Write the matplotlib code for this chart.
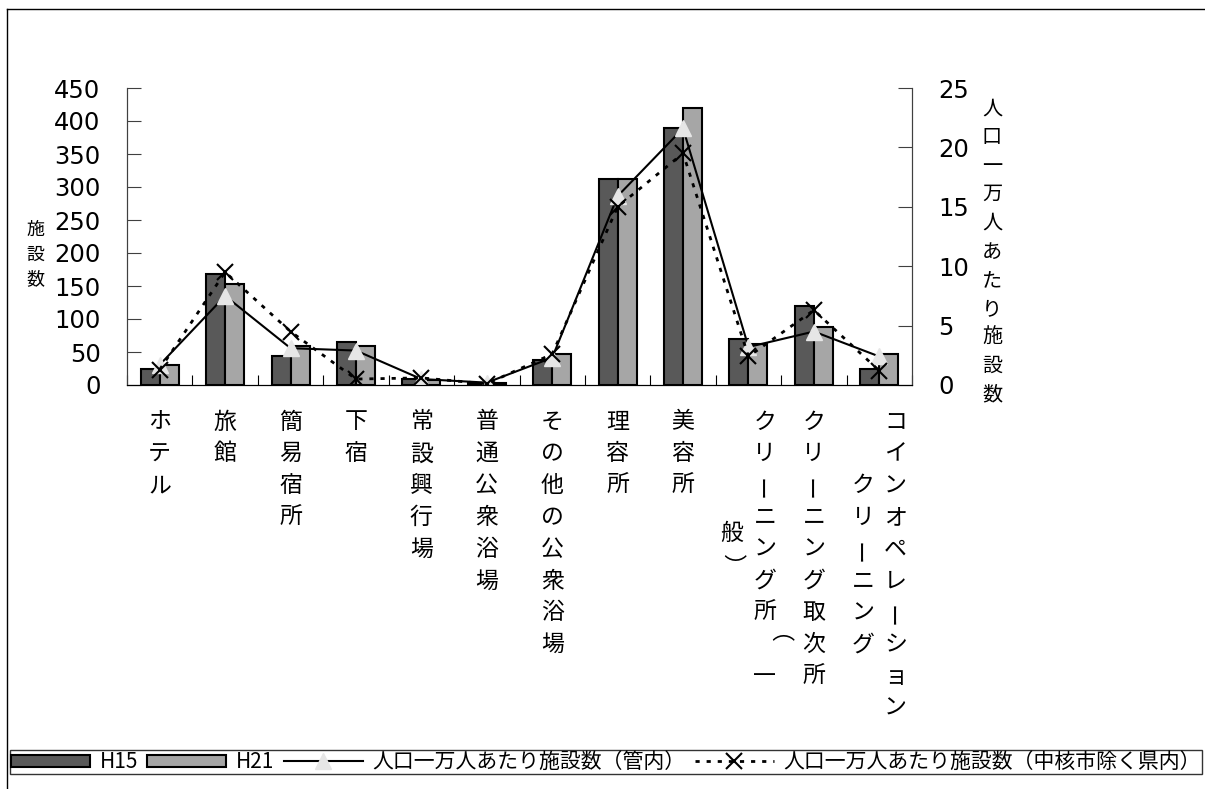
import matplotlib
matplotlib.use("Agg")
import numpy as np
import matplotlib.pyplot as plt
import matplotlib.transforms as mtransforms
from matplotlib.lines import Line2D

plt.rcParams['font.family'] = ['Noto Sans CJK JP', 'DejaVu Sans']

categories = ['ホテル', '旅館', '簡易宿所', '下宿', '常設興行場', '普通公衆浴場',
              'その他の公衆浴場', '理容所', '美容所', 'クリーニング所（一般）',
              'クリーニング取次所', 'コインオペレーションクリーニング']
# label columns as wrapped in the original (right column first)
label_columns = [['ホテル'], ['旅館'], ['簡易宿所'], ['下宿'], ['常設興行場'],
                 ['普通公衆浴場'], ['その他の公衆浴場'], ['理容所'], ['美容所'],
                 ['クリーニング所（一', '般）'], ['クリーニング取次所'],
                 ['コインオペレーション', 'クリーニング']]

h15 = [25, 168, 44, 65, 9, 3, 38, 312, 389, 70, 120, 24]
h21 = [31, 153, 59, 59, 8, 3, 47, 312, 420, 62, 88, 47]
kannai = [1.7, 7.5, 3.1, 2.9, 0.5, 0.2, 2.3, 15.9, 21.6, 3.2, 4.5, 2.4]
kennai = [1.3, 9.5, 4.5, 0.5, 0.6, 0.1, 2.6, 15.0, 19.5, 2.4, 6.3, 1.2]

left_ticks = list(range(0, 451, 50))
right_ticks = [0, 5, 10, 15, 20, 25]

W, H = 1205, 789
fig = plt.figure(figsize=(W / 100, H / 100), dpi=100)
ax = fig.add_axes([127 / W, 1 - 385 / H, (912 - 127) / W, (385 - 88) / H])
ax2 = ax.twinx()

x = np.arange(len(categories))
bw = 0.29
b1 = ax.bar(x - bw / 2, h15, bw, color='#595959', edgecolor='black', linewidth=1.5, label='H15')
b2 = ax.bar(x + bw / 2, h21, bw, color='#a6a6a6', edgecolor='black', linewidth=1.5, label='H21')

l1, = ax2.plot(x, kannai, color='black', lw=1.5, marker='^', markersize=12,
               markerfacecolor='#e6e6e6', markeredgecolor='#e6e6e6',
               label='人口一万人あたり施設数（管内）')
l2, = ax2.plot(x, kennai, color='black', lw=2, linestyle=(0, (1.5, 2.5)), marker='x',
               markersize=12, markeredgewidth=1.5, label='人口一万人あたり施設数（中核市除く県内）')

ax.set_xlim(-0.5, len(categories) - 0.5)
ax.set_ylim(0, 450)
ax2.set_ylim(0, 25)
ax.set_yticks(left_ticks)
ax2.set_yticks(right_ticks)
ax.set_xticks(np.arange(-0.5, len(categories), 1))
ax.set_xticklabels([])
ax.tick_params(axis='x', direction='in', length=7, color='black')
ax.tick_params(axis='y', direction='in', length=10, pad=19, labelsize=17.5, color='#404040')
ax2.tick_params(axis='y', direction='in', length=10, pad=19, labelsize=17.5, color='#404040')
for lab in ax.get_yticklabels() + ax2.get_yticklabels():
    lab.set_family('DejaVu Sans')

for a in (ax, ax2):
    a.spines['top'].set_visible(False)
    a.spines['left'].set_color('#404040')
    a.spines['right'].set_color('#404040')
    a.spines['bottom'].set_color('black')
ax.patch.set_visible(False)

# vertical category labels, one glyph at a time
trans = mtransforms.blended_transform_factory(ax.transData, fig.transFigure)
top0, step, colgap = 422, 31.8, 0.25
for i, cols in enumerate(label_columns):
    longest = max(len(c) for c in cols)
    mid = top0 + (longest - 1) * step / 2
    n = len(cols)
    for j, col in enumerate(cols):
        cx = i + (n - 1) * colgap - j * 2 * colgap
        start = mid - (len(col) - 1) * step / 2
        for k, ch in enumerate(col):
            rot = 0
            if ch == 'ー':
                rot = 90
            elif ch in '（）':
                rot = -90
            ax.text(cx, 1 - (start + k * step) / H, ch, transform=trans, ha='center',
                    va='center', fontsize=16.5, rotation=rot)

# stacked axis titles
for k, ch in enumerate('施設数'):
    fig.text(35 / W, 1 - (230 + k * 24.5) / H, ch, ha='center', va='center', fontsize=13)
for k, ch in enumerate('人口一万人あたり施設数'):
    fig.text(992 / W, 1 - (109 + k * 28.6) / H, ch, ha='center', va='center', fontsize=14.5)

leg = fig.legend(handles=[b1, b2, l1, l2], loc='center left',
                 bbox_to_anchor=(10 / W, 1 - 762 / H), ncol=4, fontsize=15,
                 handlelength=3.8, handleheight=0.5, handletextpad=0.45, columnspacing=0.45,
                 borderpad=0.05, frameon=True, fancybox=False, borderaxespad=0)
leg.get_frame().set_edgecolor('black')
leg.get_frame().set_linewidth(1)

# outer chart frame (clipped at right/bottom in the original)
fig.add_artist(Line2D([7 / W, 1], [1 - 9 / H, 1 - 9 / H], color='black', lw=1))
fig.add_artist(Line2D([7 / W, 7 / W], [0, 1 - 9 / H], color='black', lw=1))

fig.savefig('out.png', dpi=100)
